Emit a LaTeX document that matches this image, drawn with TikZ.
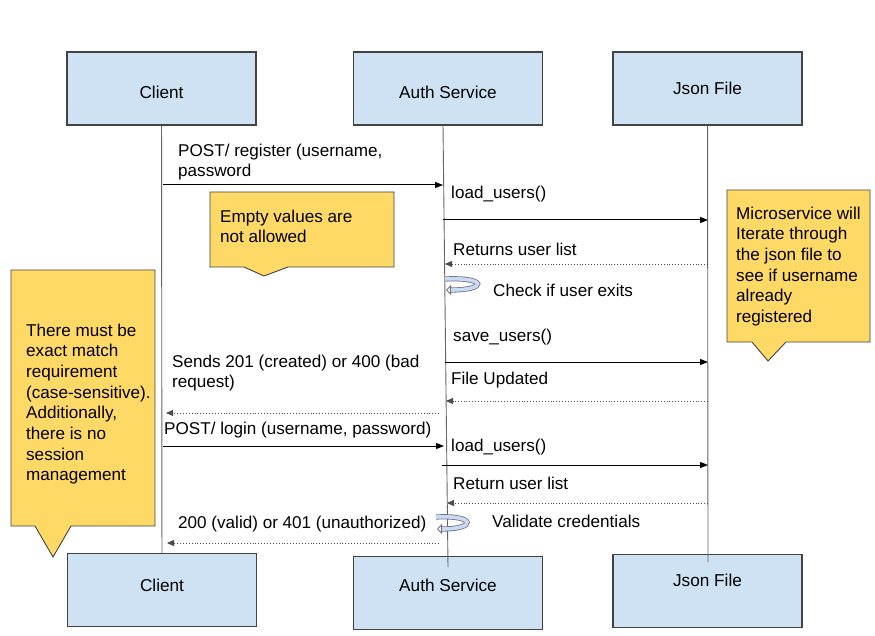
\documentclass[tikz,border=0pt]{standalone}
\usepackage{fontspec}
\setmainfont{Liberation Sans}
\usetikzlibrary{arrows.meta}

\definecolor{actorfill}{HTML}{CFE2F3}
\definecolor{notefill}{HTML}{FFD966}
\definecolor{loopfill}{HTML}{C9DAF8}
\definecolor{edgegray}{HTML}{434343}

\tikzset{
  actor/.style={draw=edgegray, line width=1.2pt, fill=actorfill,
    minimum width=189pt, minimum height=73pt, inner sep=0pt,
    font=\fontsize{17.2}{20}\selectfont},
  lifeline/.style={draw=black!60, line width=0.9pt},
  call/.style={line width=1pt, -{Triangle[length=8pt,width=6pt]}},
  reply/.style={line width=0.9pt, dotted, black!70, -{Triangle[length=7pt,width=6pt]}},
  msgtext/.style={anchor=north west, inner sep=0pt, align=left,
    font=\fontsize{17.1}{20.7}\selectfont},
  note/.style={draw=edgegray, line width=0.9pt, fill=notefill},
  selfloop/.style={draw=black!55, line width=0.8pt, double=loopfill,
    double distance=3.6pt, -{Triangle[open,length=5pt,width=10pt]}}
}

\begin{document}
\begin{tikzpicture}[x=1pt, y=-1pt]
\useasboundingbox [fill=white] (0,0) rectangle (875,636);

\node[actor, text height=20.5pt, text depth=0pt] (clientTop) at (161.5,88.5) {Client};
\node[actor, text height=20.5pt, text depth=0pt] (authTop) at (448,88.5) {Auth Service};
\node[actor, text height=12.5pt, text depth=0pt] (jsonTop) at (707.5,88.5) {Json File};
\node[actor, text height=11.5pt, text depth=8pt] (clientBot) at (162,590) {Client};
\node[actor, text height=11.5pt, text depth=14pt] (authBot) at (448,593) {Auth Service};
\node[actor, text height=11.5pt, text depth=20pt] (jsonBot) at (707.5,591) {Json File};

\coordinate (authStart) at (443,125);
\coordinate (authEnd) at (448,567);
\coordinate (jsonEnd) at (708,562);
\draw[lifeline] (clientTop) -- (clientBot);
\draw[lifeline] (authStart) -- (authEnd);
\draw[lifeline] (jsonTop) -- (jsonEnd);

\draw[note] (210,192) -- (394,192) -- (394,267) -- (288,267)
            -- (264,276) coordinate (emptyTip)
            -- (244,267) -- (210,267) -- cycle;
\draw[note] (727,190) -- (870,190) -- (870,342) -- (786,342)
            -- (768,361) coordinate (microTip)
            -- (752,342) -- (727,342) -- cycle;
\draw[note] (11,270) -- (155,270) -- (155,526) -- (71,526)
            -- (53,557) coordinate (matchTip)
            -- (35,526) -- (11,526) -- cycle;

\path (163,185) coordinate (regA)   (443,185) coordinate (regB);
\path (443,220) coordinate (load1A) (708,220) coordinate (load1B);
\path (708,264) coordinate (list1A) (445,264) coordinate (list1B);
\path (445,279) coordinate (check);
\path (445,362) coordinate (saveA)  (708,362) coordinate (saveB);
\path (708,401) coordinate (updA)   (446,401) coordinate (updB);
\path (439,413) coordinate (respA)  (166,413) coordinate (respB);
\path (163,446) coordinate (loginA) (444,446) coordinate (loginB);
\path (442,465) coordinate (load2A) (708,465) coordinate (load2B);
\path (708,503) coordinate (list2A) (447,503) coordinate (list2B);
\path (436,517) coordinate (valid);
\path (439,543) coordinate (resp2A) (167,543) coordinate (resp2B);

\draw[call] (regA) -- (regB);
\draw[call] (load1A) -- (load1B);
\draw[reply] (list1A) -- (list1B);
\draw[selfloop] (check) .. controls +(42,-2) and +(42,0) .. +(1,11);
\draw[call] (saveA) -- (saveB);
\draw[reply] (updA) -- (updB);
\draw[reply] (respA) -- (respB);
\draw[call] (loginA) -- (loginB);
\draw[call] (load2A) -- (load2B);
\draw[reply] (list2A) -- (list2B);
\draw[selfloop] (valid) .. controls +(40,-2) and +(40,0) .. +(1,12);
\draw[reply] (resp2A) -- (resp2B);

\node[msgtext] (regText) at (178,143.5) {POST/ register (username,\\password};
\node[msgtext] (load1Text) at (451,185.5) {load\_users()};
\node[msgtext] (list1Text) at (453,242.5) {Returns user list};
\node[msgtext] (checkText) at (493,283.5) {Check if user exits};
\node[msgtext] (saveText) at (453,328.5) {save\_users()};
\node[msgtext] (updText) at (451,371.5) {File Updated};
\node[msgtext] (respText) at (172,354.5) {Sends 201 (created) or 400 (bad\\request)};
\node[msgtext] (loginText) at (164,421.5) {POST/ login (username, password)};
\node[msgtext] (load2Text) at (451,438.5) {load\_users()};
\node[msgtext] (list2Text) at (453,476.5) {Return user list};
\node[msgtext] (validText) at (492,514.5) {Validate credentials};
\node[msgtext] (resp2Text) at (178,515.5) {200 (valid) or 401 (unauthorized)};

\node[msgtext] (emptyText) at (220,209.5) {Empty values are\\not allowed};
\node[msgtext] (microText) at (736,206.5) {Microservice will\\Iterate through\\the json file to\\see if username\\already\\registered};
\node[msgtext] (matchText) at (26,323.5) {There must be\\exact match\\requirement\\(case-sensitive).\\Additionally,\\there is no\\session\\management};
\end{tikzpicture}
\end{document}
